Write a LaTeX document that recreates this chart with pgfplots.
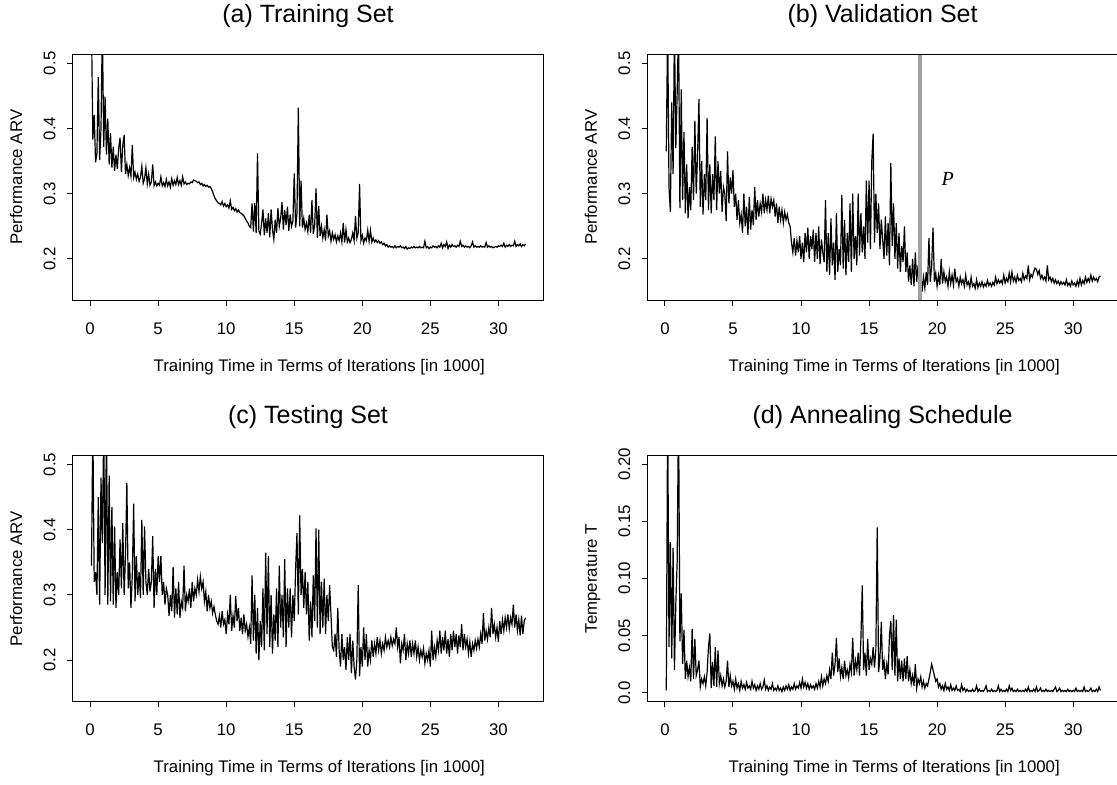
\documentclass[border=0pt]{standalone}
\usepackage{fontspec}
\setmainfont{Liberation Sans}
\newfontfamily\serifP{Liberation Serif}
\usepackage{pgfplots}
\usepackage{pgfplotstable}
\pgfplotsset{compat=1.18}
\definecolor{vline}{RGB}{160,160,160}

\pgfplotstableread{
x a b c d
0.1 0.56 0.365 0.345 0.002
0.2 0.383 0.56 0.56 0.25
0.3 0.421 0.31 0.32 0.04
0.4 0.348 0.272 0.335 0.132
0.5 0.362 0.44 0.3 0.03
0.6 0.479 0.33 0.45 0.127
0.7 0.352 0.56 0.285 0.02
0.8 0.40 0.37 0.48 0.078
0.9 0.56 0.455 0.38 0.115
1.0 0.372 0.56 0.56 0.25
1.1 0.449 0.278 0.3 0.045
1.2 0.36 0.46 0.56 0.087
1.3 0.415 0.29 0.285 0.025
1.4 0.345 0.395 0.483 0.055
1.5 0.393 0.27 0.29 0.012
1.6 0.34 0.345 0.435 0.028
1.7 0.372 0.262 0.285 0.014
1.8 0.335 0.31 0.405 0.022
1.9 0.36 0.275 0.28 0.01
2.0 0.338 0.372 0.335 0.056
2.1 0.37 0.29 0.3 0.012
2.2 0.386 0.412 0.385 0.047
2.3 0.333 0.3 0.31 0.015
2.4 0.375 0.36 0.41 0.02
2.5 0.39 0.445 0.3 0.028
2.6 0.33 0.28 0.36 0.005
2.7 0.345 0.35 0.472 0.012
2.8 0.328 0.268 0.31 0.008
2.9 0.34 0.33 0.35 0.014
3.0 0.327 0.29 0.28 0.006
3.1 0.375 0.416 0.33 0.018
3.2 0.325 0.275 0.44 0.04
3.3 0.333 0.345 0.29 0.052
3.4 0.322 0.27 0.36 0.004
3.5 0.33 0.33 0.3 0.027
3.6 0.319 0.29 0.335 0.006
3.7 0.325 0.388 0.295 0.04
3.8 0.342 0.275 0.415 0.005
3.9 0.316 0.35 0.3 0.037
4.0 0.323 0.3 0.405 0.008
4.1 0.34 0.335 0.32 0.015
4.2 0.315 0.272 0.3 0.006
4.3 0.33 0.31 0.34 0.012
4.4 0.313 0.3 0.305 0.005
4.5 0.318 0.258 0.32 0.01
4.6 0.345 0.365 0.39 0.028
4.7 0.312 0.285 0.28 0.005
4.8 0.318 0.325 0.34 0.015
4.9 0.312 0.3 0.3 0.006
5.0 0.316 0.336 0.36 0.01
5.1 0.313 0.28 0.32 0.003
5.2 0.326 0.3 0.36 0.012
5.3 0.312 0.26 0.3 0.004
5.4 0.317 0.29 0.32 0.008
5.5 0.311 0.255 0.285 0.002
5.6 0.322 0.268 0.31 0.01
5.7 0.312 0.24 0.3 0.004
5.8 0.318 0.3 0.268 0.007
5.9 0.31 0.25 0.3 0.003
6.0 0.323 0.28 0.275 0.009
6.1 0.313 0.237 0.343 0.004
6.2 0.32 0.295 0.265 0.006
6.3 0.314 0.245 0.31 0.003
6.4 0.325 0.275 0.27 0.01
6.5 0.314 0.252 0.32 0.004
6.6 0.32 0.31 0.265 0.007
6.7 0.313 0.26 0.29 0.002
6.8 0.326 0.29 0.28 0.006
6.9 0.315 0.265 0.345 0.003
7.0 0.318 0.285 0.275 0.008
7.1 0.314 0.272 0.3 0.003
7.2 0.316 0.3 0.29 0.005
7.3 0.315 0.27 0.31 0.011
7.4 0.318 0.29 0.28 0.003
7.5 0.317 0.275 0.32 0.006
7.6 0.321 0.297 0.29 0.002
7.7 0.32 0.27 0.31 0.005
7.8 0.319 0.292 0.3 0.003
7.9 0.317 0.28 0.323 0.008
8.0 0.318 0.29 0.305 0.002
8.1 0.314 0.265 0.328 0.004
8.2 0.316 0.285 0.31 0.002
8.3 0.312 0.255 0.32 0.006
8.4 0.314 0.28 0.29 0.002
8.5 0.311 0.26 0.305 0.004
8.6 0.313 0.275 0.275 0.001
8.7 0.31 0.255 0.3 0.005
8.8 0.311 0.272 0.28 0.002
8.9 0.308 0.26 0.29 0.006
9.0 0.303 0.268 0.272 0.003
9.1 0.297 0.255 0.282 0.007
9.2 0.292 0.25 0.27 0.002
9.3 0.289 0.225 0.26 0.005
9.4 0.286 0.21 0.255 0.003
9.5 0.285 0.232 0.268 0.008
9.6 0.283 0.205 0.25 0.003
9.7 0.288 0.228 0.275 0.006
9.8 0.281 0.21 0.255 0.004
9.9 0.285 0.235 0.262 0.009
10.0 0.28 0.2 0.24 0.004
10.1 0.283 0.225 0.27 0.012
10.2 0.278 0.195 0.255 0.005
10.3 0.289 0.24 0.3 0.009
10.4 0.276 0.21 0.245 0.004
10.5 0.279 0.248 0.268 0.008
10.6 0.274 0.2 0.25 0.003
10.7 0.277 0.235 0.298 0.007
10.8 0.272 0.215 0.26 0.004
10.9 0.275 0.245 0.28 0.006
11.0 0.271 0.195 0.245 0.003
11.1 0.27 0.24 0.265 0.008
11.2 0.268 0.2 0.24 0.004
11.3 0.266 0.25 0.27 0.01
11.4 0.262 0.192 0.245 0.005
11.5 0.258 0.23 0.255 0.014
11.6 0.255 0.21 0.236 0.006
11.7 0.25 0.195 0.25 0.012
11.8 0.248 0.29 0.225 0.008
11.9 0.285 0.18 0.33 0.015
12.0 0.242 0.24 0.23 0.01
12.1 0.286 0.175 0.3 0.02
12.2 0.24 0.262 0.21 0.012
12.3 0.362 0.19 0.28 0.035
12.4 0.243 0.225 0.2 0.015
12.5 0.238 0.168 0.26 0.025
12.6 0.254 0.27 0.22 0.048
12.7 0.276 0.18 0.31 0.018
12.8 0.236 0.215 0.215 0.03
12.9 0.262 0.19 0.365 0.014
13.0 0.24 0.298 0.24 0.022
13.1 0.27 0.185 0.36 0.012
13.2 0.233 0.26 0.22 0.028
13.3 0.276 0.175 0.3 0.015
13.4 0.245 0.24 0.21 0.02
13.5 0.23 0.195 0.27 0.013
13.6 0.26 0.285 0.23 0.025
13.7 0.24 0.18 0.31 0.018
13.8 0.278 0.3 0.22 0.048
13.9 0.25 0.2 0.345 0.015
14.0 0.262 0.235 0.25 0.028
14.1 0.287 0.19 0.3 0.02
14.2 0.245 0.3 0.235 0.035
14.3 0.275 0.205 0.355 0.015
14.4 0.252 0.27 0.22 0.047
14.5 0.28 0.21 0.31 0.094
14.6 0.243 0.25 0.25 0.02
14.7 0.268 0.2 0.31 0.035
14.8 0.25 0.32 0.235 0.015
14.9 0.258 0.225 0.3 0.047
15.0 0.331 0.32 0.26 0.02
15.1 0.248 0.215 0.34 0.03
15.2 0.27 0.35 0.395 0.025
15.3 0.432 0.392 0.27 0.04
15.4 0.25 0.225 0.422 0.022
15.5 0.32 0.3 0.3 0.038
15.6 0.248 0.24 0.34 0.145
15.7 0.262 0.285 0.28 0.018
15.8 0.245 0.215 0.335 0.03
15.9 0.255 0.26 0.27 0.062
16.0 0.242 0.23 0.32 0.02
16.1 0.268 0.2 0.23 0.028
16.2 0.24 0.265 0.29 0.012
16.3 0.29 0.205 0.235 0.025
16.4 0.238 0.255 0.33 0.016
16.5 0.252 0.19 0.26 0.05
16.6 0.308 0.347 0.402 0.063
16.7 0.232 0.22 0.25 0.02
16.8 0.281 0.285 0.4 0.068
16.9 0.235 0.2 0.24 0.015
17.0 0.25 0.255 0.32 0.064
17.1 0.232 0.185 0.25 0.01
17.2 0.245 0.24 0.325 0.03
17.3 0.228 0.18 0.24 0.012
17.4 0.268 0.22 0.3 0.028
17.5 0.235 0.195 0.26 0.01
17.6 0.243 0.25 0.315 0.03
17.7 0.227 0.18 0.27 0.012
17.8 0.24 0.21 0.22 0.032
17.9 0.23 0.165 0.215 0.01
18.0 0.237 0.19 0.24 0.02
18.1 0.226 0.16 0.205 0.008
18.2 0.235 0.2 0.28 0.015
18.3 0.228 0.158 0.215 0.006
18.4 0.24 0.21 0.19 0.025
18.5 0.226 0.165 0.24 0.004
18.6 0.255 0.19 0.2 0.012
18.7 0.225 0.148 0.22 0.008
18.8 0.245 0.18 0.185 0.014
18.9 0.226 0.15 0.235 0.005
19.0 0.232 0.172 0.2 0.01
19.1 0.225 0.155 0.24 0.004
19.2 0.23 0.18 0.18 0.008
19.3 0.24 0.16 0.23 0.006
19.4 0.228 0.232 0.19 0.012
19.5 0.266 0.165 0.17 0.018
19.6 0.232 0.19 0.2 0.025
19.7 0.24 0.248 0.315 0.02
19.8 0.315 0.165 0.175 0.015
19.9 0.228 0.178 0.22 0.01
20.0 0.236 0.158 0.19 0.012
20.1 0.224 0.175 0.25 0.005
20.2 0.232 0.16 0.2 0.008
20.3 0.228 0.2 0.24 0.003
20.4 0.244 0.162 0.19 0.006
20.5 0.227 0.18 0.215 0.002
20.6 0.244 0.165 0.2 0.008
20.7 0.226 0.172 0.23 0.003
20.8 0.232 0.158 0.205 0.005
20.9 0.226 0.18 0.225 0.002
21.0 0.229 0.162 0.21 0.007
21.1 0.225 0.175 0.235 0.002
21.2 0.228 0.16 0.215 0.004
21.3 0.224 0.185 0.23 0.002
21.4 0.226 0.165 0.21 0.006
21.5 0.222 0.17 0.225 0.002
21.6 0.224 0.158 0.215 0.003
21.7 0.22 0.172 0.235 0.001
21.8 0.222 0.162 0.22 0.007
21.9 0.218 0.168 0.23 0.002
22.0 0.22 0.158 0.22 0.004
22.1 0.218 0.175 0.235 0.001
22.2 0.219 0.16 0.222 0.003
22.3 0.217 0.165 0.232 0.001
22.4 0.22 0.156 0.225 0.002
22.5 0.217 0.172 0.25 0.001
22.6 0.219 0.158 0.22 0.003
22.7 0.218 0.162 0.235 0.001
22.8 0.22 0.155 0.195 0.002
22.9 0.217 0.168 0.225 0.006
23.0 0.218 0.156 0.215 0.001
23.1 0.216 0.163 0.24 0.003
23.2 0.219 0.158 0.2 0.001
23.3 0.215 0.165 0.225 0.002
23.4 0.217 0.157 0.21 0.001
23.5 0.216 0.162 0.23 0.003
23.6 0.218 0.158 0.205 0.006
23.7 0.217 0.167 0.225 0.001
23.8 0.219 0.159 0.21 0.002
23.9 0.217 0.163 0.23 0.001
24.0 0.218 0.158 0.205 0.003
24.1 0.217 0.164 0.22 0.001
24.2 0.219 0.16 0.2 0.002
24.3 0.217 0.172 0.215 0.001
24.4 0.218 0.162 0.205 0.002
24.5 0.217 0.168 0.218 0.006
24.6 0.227 0.163 0.195 0.001
24.7 0.217 0.167 0.21 0.003
24.8 0.219 0.162 0.2 0.001
24.9 0.216 0.175 0.215 0.002
25.0 0.218 0.163 0.19 0.001
25.1 0.217 0.17 0.245 0.003
25.2 0.22 0.165 0.2 0.001
25.3 0.218 0.178 0.22 0.006
25.4 0.219 0.165 0.205 0.002
25.5 0.217 0.18 0.23 0.004
25.6 0.22 0.166 0.215 0.001
25.7 0.218 0.172 0.245 0.002
25.8 0.224 0.164 0.21 0.001
25.9 0.217 0.175 0.235 0.003
26.0 0.222 0.167 0.215 0.001
26.1 0.219 0.17 0.245 0.002
26.2 0.226 0.165 0.21 0.001
26.3 0.216 0.178 0.232 0.002
26.4 0.221 0.168 0.205 0.001
26.5 0.218 0.174 0.24 0.003
26.6 0.222 0.17 0.215 0.001
26.7 0.219 0.19 0.245 0.005
26.8 0.22 0.168 0.22 0.001
26.9 0.218 0.176 0.24 0.002
27.0 0.221 0.172 0.21 0.001
27.1 0.219 0.18 0.238 0.003
27.2 0.227 0.186 0.22 0.001
27.3 0.219 0.184 0.255 0.005
27.4 0.221 0.176 0.215 0.001
27.5 0.218 0.182 0.24 0.002
27.6 0.22 0.17 0.22 0.004
27.7 0.218 0.175 0.232 0.001
27.8 0.219 0.168 0.21 0.002
27.9 0.217 0.172 0.228 0.001
28.0 0.22 0.166 0.205 0.003
28.1 0.226 0.19 0.225 0.001
28.2 0.218 0.168 0.215 0.002
28.3 0.22 0.172 0.23 0.001
28.4 0.218 0.165 0.218 0.002
28.5 0.219 0.17 0.232 0.001
28.6 0.218 0.163 0.22 0.003
28.7 0.22 0.168 0.24 0.005
28.8 0.218 0.162 0.225 0.001
28.9 0.219 0.166 0.272 0.002
29.0 0.218 0.16 0.23 0.004
29.1 0.225 0.165 0.245 0.001
29.2 0.218 0.161 0.232 0.002
29.3 0.22 0.164 0.25 0.001
29.4 0.218 0.16 0.235 0.002
29.5 0.219 0.168 0.28 0.001
29.6 0.217 0.159 0.24 0.003
29.7 0.218 0.163 0.255 0.001
29.8 0.219 0.158 0.235 0.002
29.9 0.218 0.166 0.25 0.001
30.0 0.22 0.16 0.228 0.002
30.1 0.219 0.163 0.26 0.001
30.2 0.221 0.158 0.24 0.004
30.3 0.219 0.166 0.262 0.001
30.4 0.224 0.159 0.245 0.002
30.5 0.218 0.17 0.265 0.001
30.6 0.221 0.16 0.25 0.002
30.7 0.219 0.167 0.27 0.001
30.8 0.222 0.162 0.248 0.005
30.9 0.219 0.172 0.265 0.001
31.0 0.221 0.164 0.255 0.002
31.1 0.22 0.17 0.285 0.001
31.2 0.227 0.165 0.25 0.002
31.3 0.219 0.175 0.27 0.004
31.4 0.222 0.166 0.245 0.001
31.5 0.22 0.172 0.262 0.002
31.6 0.223 0.167 0.238 0.001
31.7 0.219 0.17 0.268 0.003
31.8 0.222 0.165 0.24 0.001
31.9 0.22 0.172 0.26 0.005
32.0 0.223 0.174 0.265 0.002
}\datatable

\pgfplotsset{
  rpanel/.style={
    scale only axis, width=235.15pt, height=123.2pt,
    anchor=south west,
    xmin=-1.28, xmax=33.28,
    axis line style={line width=0.5pt, black},
    tick align=outside, xtick pos=left, ytick pos=left,
    major tick length=2.75pt,
    every tick/.style={line width=0.5pt, black},
    xtick={0,5,10,15,20,25,30},
    xticklabels={0,5,10,15,20,25,30},
    tick label style={font=\fontsize{8.4}{10}\selectfont, inner sep=0pt},
    xticklabel style={anchor=base},
    yticklabel style={rotate=90, anchor=base},
    xticklabel shift=14.25pt,
    yticklabel shift=5.9pt,
    clip=true,
  },
  openright/.style={
    axis line style={draw=none},
  },
  arvaxis/.style={ymin=0.136, ymax=0.514, ytick={0.2,0.3,0.4,0.5}, yticklabels={0.2,0.3,0.4,0.5}},
  dline/.style={black, line width=0.6pt, no markers},
}

\begin{document}
\begin{tikzpicture}
\useasboundingbox (0,0) rectangle (558.5pt,392pt);

\begin{axis}[rpanel, arvaxis, at={(36.35pt,241.7pt)}]
\addplot[dline] table[x=x, y=a] {\datatable};
\end{axis}

\begin{axis}[rpanel, openright, arvaxis, at={(323.75pt,241.7pt)}, name=bax]
\addplot[dline] table[x=x, y=b] {\datatable};
\addplot[vline, line width=2pt] coordinates {(18.77,0.10) (18.77,0.55)};
\node[anchor=base west, inner sep=0pt, font=\serifP\itshape\fontsize{10}{12}\selectfont] at (axis cs:20.31,0.312) {P};
\end{axis}
\draw[line width=0.5pt, black] (558.5pt,364.9pt) -- (323.75pt,364.9pt) -- (323.75pt,241.7pt) -- (558.5pt,241.7pt);

\begin{axis}[rpanel, arvaxis, at={(36.35pt,41.1pt)}]
\addplot[dline] table[x=x, y=c] {\datatable};
\end{axis}

\begin{axis}[rpanel, openright, at={(323.75pt,41.1pt)}, ymin=-0.008, ymax=0.208,
  ytick={0,0.05,0.1,0.15,0.2}, yticklabels={0.0,0.05,0.10,0.15,0.20}]
\addplot[dline] table[x=x, y=d] {\datatable};
\end{axis}
\draw[line width=0.5pt, black] (558.5pt,164.3pt) -- (323.75pt,164.3pt) -- (323.75pt,41.1pt) -- (558.5pt,41.1pt);

% titles
\begin{scope}[every node/.style={inner sep=0pt, anchor=base, font=\fontsize{12.5}{14}\selectfont}]
\node at (154pt,380.65pt) {(a) Training Set};
\node at (441.3pt,380.65pt) {(b) Validation Set};
\node at (154pt,180.15pt) {(c) Testing Set};
\node at (441.3pt,180.15pt) {(d) Annealing Schedule};
\end{scope}
% x labels
\begin{scope}[every node/.style={inner sep=0pt, anchor=base, font=\fontsize{8.4}{10}\selectfont}]
\node at (159.65pt,206.5pt) {Training Time in Terms of Iterations [in 1000]};
\node at (447.1pt,206.5pt) {Training Time in Terms of Iterations [in 1000]};
\node at (159.65pt,5.65pt) {Training Time in Terms of Iterations [in 1000]};
\node at (447.1pt,5.65pt) {Training Time in Terms of Iterations [in 1000]};
\end{scope}
% y labels
\begin{scope}[every node/.style={inner sep=0pt, anchor=base, rotate=90, font=\fontsize{8.4}{10}\selectfont}]
\node at (11.05pt,303.35pt) {Performance ARV};
\node at (298.45pt,303.35pt) {Performance ARV};
\node at (11.05pt,102.65pt) {Performance ARV};
\node at (298.45pt,102.65pt) {Temperature T};
\end{scope}
\end{tikzpicture}
\end{document}
